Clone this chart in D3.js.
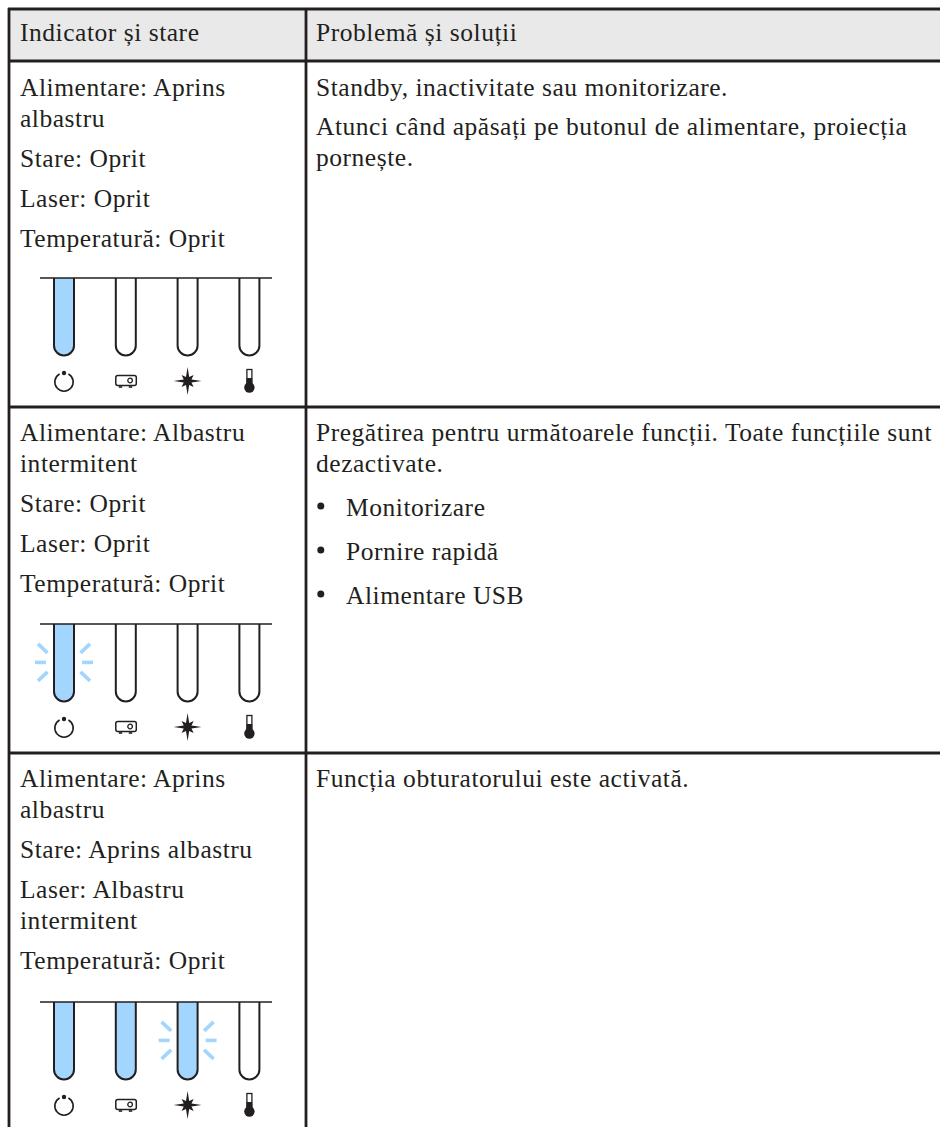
<!DOCTYPE html>
<html><head><meta charset="utf-8">
<script src="https://cdn.jsdelivr.net/npm/d3@7/dist/d3.min.js"></script>
<style>html,body{margin:0;padding:0;background:#fff;overflow:hidden}svg{display:block}text{font-family:"Liberation Serif",serif;font-size:25.5px;letter-spacing:.53px;fill:#231f20}</style>
</head><body><svg id="c" width="940" height="1127"></svg>
<script>
const headers = ["Indicator și stare", "Problemă și soluții"];
const leftText = [
 ["Alimentare: Aprins","albastru","Stare: Oprit","Laser: Oprit","Temperatură: Oprit"],
 ["Alimentare: Albastru","intermitent","Stare: Oprit","Laser: Oprit","Temperatură: Oprit"],
 ["Alimentare: Aprins","albastru","Stare: Aprins albastru","Laser: Albastru","intermitent","Temperatură: Oprit"]
];
const rightText = [
 ["Standby, inactivitate sau monitorizare.","Atunci când apăsați pe butonul de alimentare, proiecția","pornește."],
 ["Pregătirea pentru următoarele funcții. Toate funcțiile sunt","dezactivate.","Monitorizare","Pornire rapidă","Alimentare USB"],
 ["Funcția obturatorului este activată."]
];
const ledNames = ["power","status","laser","temp"];
const ledStates = [
 ["on","off","off","off"],
 ["blink","off","off","off"],
 ["on","on","blink","off"]
];
const leftBase = [[95.5,126.5,166.5,206.5,246.5],[440.5,471.5,511.5,551.5,591.5],[786.5,817.5,857.5,897.5,928.5,968.5]];
const rightBase = [[95.5,134.5,165.5],[440.5,471.5,516,560,604],[786.5]];
const bulletIdx = [[],[2,3,4],[]];
const panelY = [278,624,1002];

const svg = d3.select("#c");
const ink="#231f20", blue="#a3d6ff";
const x = d3.scalePoint().domain(ledNames).range([64,249.4]);

svg.append("rect").attr("x",9).attr("y",9).attr("width",940).attr("height",52).attr("fill","#e9e9e9");
const rule=(x1,y1,x2,y2)=>svg.append("line").attr("x1",x1).attr("y1",y1).attr("x2",x2).attr("y2",y2).attr("stroke",ink).attr("stroke-width",2.8);
[9,61,407,753].forEach(y=>rule(8,y,940,y));
rule(9,8,9,1127); rule(306,8,306,1127);

const t=(s,xx,y)=>svg.append("text").attr("x",xx).attr("y",y).text(s);
t(headers[0],20,41); t(headers[1],316,41);
leftText.forEach((r,i)=>r.forEach((s,j)=>t(s,20,leftBase[i][j])));
rightText.forEach((r,i)=>r.forEach((s,j)=>{
  const b=bulletIdx[i].includes(j);
  t(s,b?346:316,rightBase[i][j]);
  if(b) svg.append("circle").attr("cx",320.8).attr("cy",rightBase[i][j]-10).attr("r",3.5).attr("fill",ink);
}));

ledStates.forEach((states,i)=>{
  const g=svg.append("g").attr("transform",`translate(0,${panelY[i]})`);
  states.forEach((st,k)=>{
    const cx=x(ledNames[k]), hw=10, h=77.5;
    g.append("path").attr("d",`M${cx-hw},0V${h-hw}A${hw},${hw} 0 0 0 ${cx+hw},${h-hw}V0`)
     .attr("fill",st==="off"?"#fff":blue).attr("stroke",ink).attr("stroke-width",2);
    if(st==="blink"){
      const cy=38.4;
      [-1,1].forEach(d=>{
        [[29,0,18,0],[26,-18.5,16.5,-9.5],[26,18.5,16.5,9.5]].forEach(([a,b,c,e])=>{
          g.append("line").attr("x1",cx+d*a).attr("y1",cy+b).attr("x2",cx+d*c).attr("y2",cy+e).attr("stroke",blue).attr("stroke-width",3.6);
        });
      });
    }
    const iy=103, ig=g.append("g").attr("transform",`translate(${cx},${iy})`);
    if(k===0){
      ig.append("path").attr("d",d3.arc()({innerRadius:8.4,outerRadius:10,startAngle:0.5,endAngle:2*Math.PI-0.5})).attr("transform","translate(0,1)").attr("fill",ink);
      ig.append("circle").attr("cy",-8).attr("r",2.2).attr("fill",ink);
    } else if(k===1){
      ig.append("rect").attr("x",-10).attr("y",-5.5).attr("width",20.5).attr("height",10).attr("rx",2).attr("fill","#fff").attr("stroke",ink).attr("stroke-width",1.5);
      ig.append("circle").attr("cx",4.3).attr("cy",-.5).attr("r",2.3).attr("fill","#fff").attr("stroke",ink).attr("stroke-width",1.3);
      [-7,3].forEach(d=>ig.append("rect").attr("x",d).attr("y",5.2).attr("width",3.4).attr("height",1.6).attr("fill",ink));
    } else if(k===2){
      const star=[];
      for(let a=0;a<16;a++){
        const R=a%4===0?14:(a%2===0?8.5:4.2);
        const an=a*Math.PI/8; star.push([R*Math.sin(an),-R*Math.cos(an)]);
      }
      ig.append("path").attr("d",d3.line()(star)+"Z").attr("fill",ink);
    } else {
      ig.append("rect").attr("x",-2.5).attr("y",-11.5).attr("width",5).attr("height",16).attr("fill","#fff").attr("stroke",ink).attr("stroke-width",1.3);
      ig.append("rect").attr("x",-2.8).attr("y",-3).attr("width",5.6).attr("height",8).attr("fill",ink);
      ig.append("circle").attr("cy",6.5).attr("r",5.2).attr("fill",ink);
    }
  });
  g.append("line").attr("x1",40).attr("x2",272).attr("y1",0).attr("y2",0).attr("stroke",ink).attr("stroke-width",1.6);
});
</script></body></html>
